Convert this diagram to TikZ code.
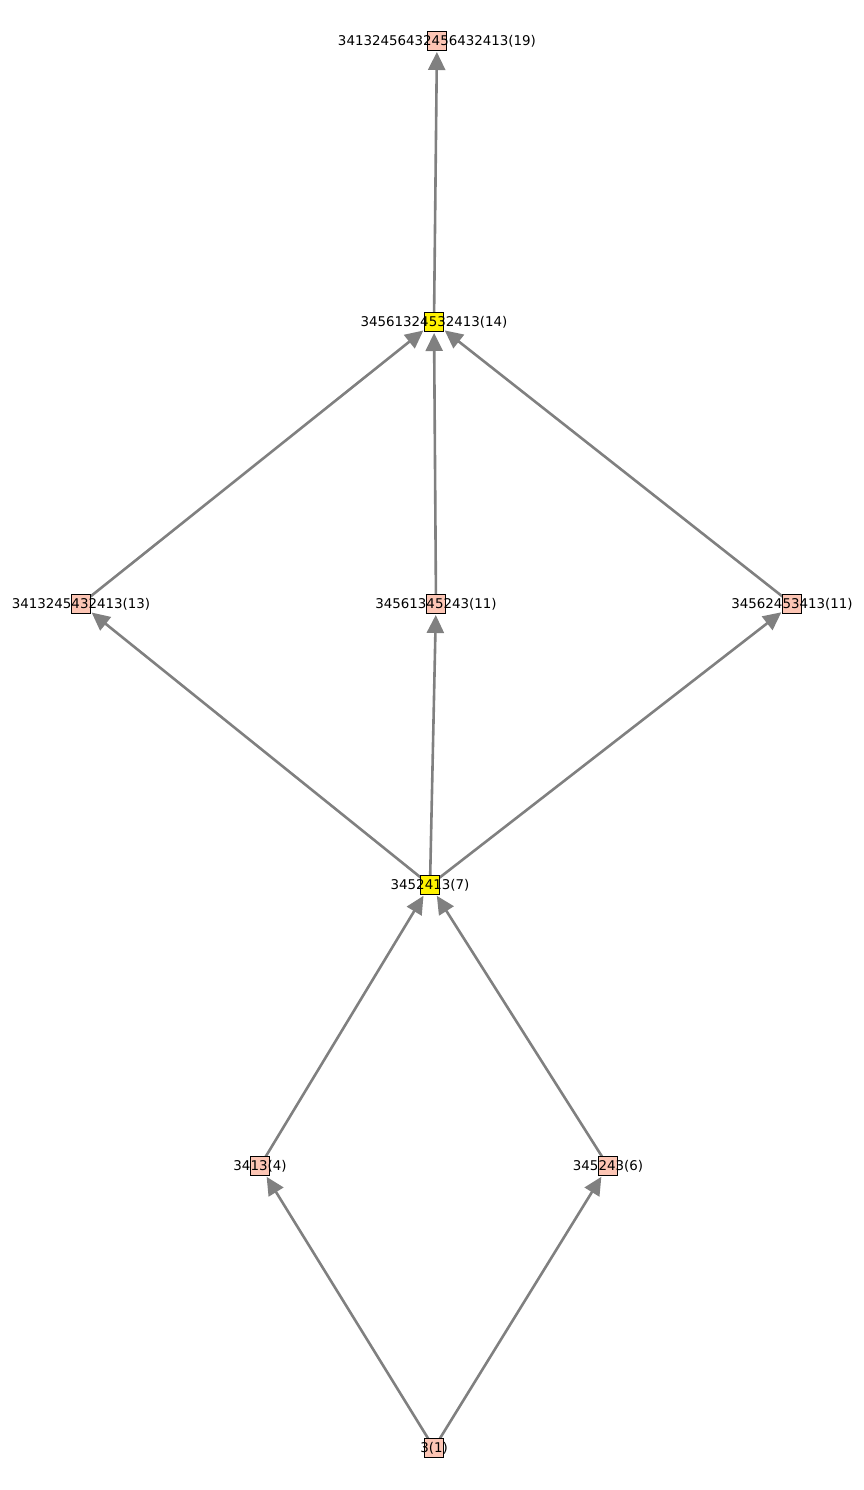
\documentclass[tikz,border=0pt]{standalone}
\usepackage{fontspec}
\setmainfont{DejaVu Sans}
\usetikzlibrary{arrows.meta,backgrounds}
\definecolor{nodesalmon}{RGB}{252,197,180}
\definecolor{edgegray}{RGB}{128,128,128}
\tikzset{
  sq/.style={draw=black, line width=1pt, minimum size=19pt, inner sep=0pt, outer sep=0pt},
  sal/.style={sq, fill=nodesalmon},
  yel/.style={sq, fill=yellow},
  lbl/.style={inner sep=0pt, font=\fontsize{13.4}{13.4}\selectfont},
  edge/.style={draw=edgegray, line width=2.6pt, -{Triangle[length=18pt,width=17pt]}, shorten >=1.5pt}
}
\begin{document}
\begin{tikzpicture}[x=1pt,y=-1pt]
\useasboundingbox (0,0) rectangle (864,1490);
\coordinate (c19) at (437,41);
\coordinate (c14) at (434,322);
\coordinate (c13) at (81,604);
\coordinate (c11a) at (436,604);
\coordinate (c11b) at (792,604);
\coordinate (c7) at (430,885);
\coordinate (c4) at (260,1166);
\coordinate (c6) at (608,1166);
\coordinate (c1) at (434,1448);
\node[sal] (s19) at (c19) {};
\node[yel] (s14) at (c14) {};
\node[sal] (s13) at (c13) {};
\node[sal] (s11a) at (c11a) {};
\node[sal] (s11b) at (c11b) {};
\node[yel] (s7) at (c7) {};
\node[sal] (s4) at (c4) {};
\node[sal] (s6) at (c6) {};
\node[sal] (s1) at (c1) {};
\begin{pgfonlayer}{background}
\draw[edge] (s14) -- (s19);
\draw[edge] (s13) -- (s14);
\draw[edge] (s11a) -- (s14);
\draw[edge] (s11b) -- (s14);
\draw[edge] (s7) -- (s13);
\draw[edge] (s7) -- (s11a);
\draw[edge] (s7) -- (s11b);
\draw[edge] (s4) -- (s7);
\draw[edge] (s6) -- (s7);
\draw[edge] (s1) -- (s4);
\draw[edge] (s1) -- (s6);
\end{pgfonlayer}
\node[lbl] (l19) at (c19) {34132456432456432413(19)};
\node[lbl] (l14) at (c14) {34561324532413(14)};
\node[lbl] (l13) at (c13) {3413245432413(13)};
\node[lbl] (l11a) at (c11a) {34561345243(11)};
\node[lbl] (l11b) at (c11b) {34562453413(11)};
\node[lbl] (l7) at (c7) {3452413(7)};
\node[lbl] (l4) at (c4) {3413(4)};
\node[lbl] (l6) at (c6) {345243(6)};
\node[lbl] (l1) at (c1) {3(1)};
\end{tikzpicture}
\end{document}
